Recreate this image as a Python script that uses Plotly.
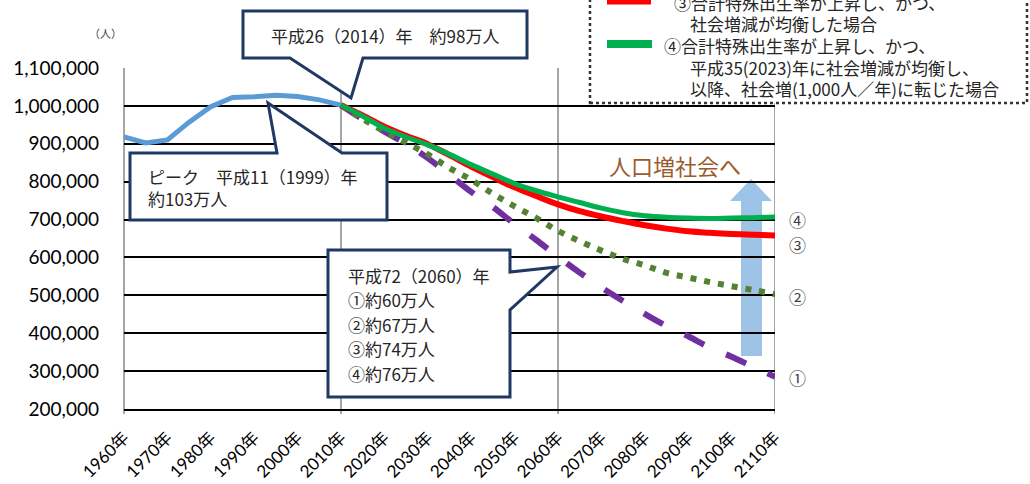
import plotly.graph_objects as go

# ---------------- data ----------------
hist_years = [1960, 1965, 1970, 1975, 1980, 1985, 1990, 1995, 2000, 2005, 2010]
hist_pop = [918000, 902000, 910000, 957000, 998000, 1022000, 1024000, 1028000, 1025000, 1016000, 1002000]

proj_years = [2010, 2015, 2020, 2025, 2030, 2035, 2040, 2045, 2050, 2055, 2060,
              2065, 2070, 2075, 2080, 2085, 2090, 2095, 2100, 2105, 2110]
s1 = [1002000, 965000, 932000, 900000, 862000, 818000, 773000, 733000, 688000, 646000, 602000,
      560000, 521000, 485000, 451000, 419000, 392000, 362000, 338000, 311000, 285000]
s2 = [1002000, 966000, 932000, 903000, 872000, 836000, 805000, 768000, 735000, 704000, 670000,
      643000, 618000, 596000, 579000, 559000, 547000, 535000, 524000, 514000, 503000]
s3 = [1002000, 975000, 945000, 921000, 899000, 870000, 840000, 812000, 785000, 762000, 740000,
      722000, 708000, 696000, 685000, 676000, 669000, 665000, 662000, 660000, 658000]
s4 = [1002000, 973000, 941000, 918000, 897000, 872000, 845000, 820000, 795000, 776000, 760000,
      745000, 730000, 718000, 710000, 706000, 704000, 703000, 704000, 705000, 707000]

x_ticks = list(range(1960, 2111, 10))
x_labels = [f"{y}年" for y in x_ticks]
y_ticks = list(range(200000, 1100001, 100000))

end_labels = ["④", "③", "②", "①"]
callout_2014 = "平成26（2014）年　約98万人"
callout_peak = "ピーク　平成11（1999）年<br>約103万人"
callout_2060 = ["平成72（2060）年", "①約60万人", "②約67万人", "③約74万人", "④約76万人"]
legend_lines = ["③合計特殊出生率が上昇し、かつ、",
                "社会増減が均衡した場合",
                "④合計特殊出生率が上昇し、かつ、",
                "平成35(2023)年に社会増減が均衡し、",
                "以降、社会増(1,000人／年)に転じた場合"]
unit_label = "（人）"
arrow_text = "人口増社会へ"

# ---------------- layout helpers (pixel -> paper) ----------------
W, H = 1030, 484
PL, PR, PT, PB = 124, 775, 68, 409
PW, PH = PR - PL, PB - PT


def fx(x):
    return (x - PL) / PW


def fy(y):
    return (PB - y) / PH


def path(points):
    return "M " + " L ".join(f"{fx(x):.5f},{fy(y):.5f}" for x, y in points) + " Z"


JP = "Noto Sans CJK JP"
NUM = "Lato, Noto Sans CJK JP"
NAVY = "#1F3864"

fig = go.Figure()

fig.add_trace(go.Scatter(x=hist_years, y=hist_pop, mode="lines",
                         line=dict(color="#5B9BD5", width=5), hoverinfo="skip"))
fig.add_trace(go.Scatter(x=proj_years, y=s1, mode="lines",
                         line=dict(color="#7030A0", width=6, dash="22px,24px", shape="spline"),
                         hoverinfo="skip"))
fig.add_trace(go.Scatter(x=proj_years, y=s2, mode="lines",
                         line=dict(color="#548235", width=6, dash="6px,8px", shape="spline"),
                         hoverinfo="skip"))
fig.add_trace(go.Scatter(x=proj_years, y=s3, mode="lines",
                         line=dict(color="#FF0000", width=6, shape="spline"), hoverinfo="skip"))
fig.add_trace(go.Scatter(x=proj_years, y=s4, mode="lines",
                         line=dict(color="#00B050", width=5, shape="spline"), hoverinfo="skip"))

shapes = []
# vertical gridlines every 50 years
for yr in (2010, 2060, 2110):
    shapes.append(dict(type="line", xref="x", yref="paper", x0=yr, x1=yr, y0=fy(414), y1=1,
                       line=dict(color="#A6A6A6", width=2), layer="below"))
shapes.append(dict(type="line", xref="paper", yref="paper", x0=0, x1=0, y0=fy(414), y1=1,
                   line=dict(color="#A6A6A6", width=2), layer="below"))

# big arrow
shapes.append(dict(type="path", xref="paper", yref="paper",
                   path=path([(741, 356), (762, 356), (762, 201), (772, 201), (751, 179),
                              (730, 201), (741, 201)]),
                   fillcolor="#9DC3E6", line=dict(width=0), layer="between"))

# callouts
shapes.append(dict(type="path", xref="paper", yref="paper",
                   path=path([(243, 11), (527, 11), (527, 58), (363, 58), (351, 98),
                              (290, 58), (243, 58)]),
                   fillcolor="white", line=dict(color=NAVY, width=3), layer="above"))
shapes.append(dict(type="path", xref="paper", yref="paper",
                   path=path([(130, 153), (277, 153), (268, 103), (342, 153), (387, 153),
                              (387, 220), (130, 220)]),
                   fillcolor="white", line=dict(color=NAVY, width=3), layer="above"))
shapes.append(dict(type="path", xref="paper", yref="paper",
                   path=path([(328, 250), (510, 250), (510, 272), (557, 267), (510, 310),
                              (510, 397), (328, 397)]),
                   fillcolor="white", line=dict(color=NAVY, width=3), layer="above"))

# legend box
shapes.append(dict(type="rect", xref="paper", yref="paper", x0=fx(590), x1=fx(1027),
                   y0=fy(103), y1=fy(-10), fillcolor="white",
                   line=dict(color="#333333", width=2.5, dash="dot"), layer="above"))
shapes.append(dict(type="line", xref="paper", yref="paper", x0=fx(607), x1=fx(651),
                   y0=fy(1), y1=fy(1), line=dict(color="#FF0000", width=7), layer="above"))
shapes.append(dict(type="line", xref="paper", yref="paper", x0=fx(607), x1=fx(652),
                   y0=fy(44), y1=fy(44), line=dict(color="#00B050", width=8), layer="above"))

ann = []


def text(x, y, s, size=17, color="#262626", anchor="left", family=JP):
    ann.append(dict(xref="paper", yref="paper", x=fx(x), y=fy(y), text=s, showarrow=False,
                    xanchor=anchor, yanchor="middle", align="left",
                    font=dict(family=family, size=size, color=color)))


text(105, 33, unit_label, size=11, anchor="center", color="#404040")
text(385, 35, callout_2014, anchor="center")
ann.append(dict(xref="paper", yref="paper", x=fx(146), y=fy(187), text=callout_peak,
                showarrow=False, xanchor="left", yanchor="middle", align="left",
                font=dict(family=JP, size=17, color="#262626")))
for i, s in enumerate(callout_2060):
    text(346, 275 + i * 24.5, s)
text(675, 165, arrow_text, size=22, anchor="center", color="#9A5B2E")
for s, yy in zip(end_labels, (219, 244, 296, 377)):
    text(797, yy, s, anchor="center", color="#404040")
legend_pos = [(672, 3), (688, 24), (662, 45), (688, 67), (688, 89)]
for s, (xx, yy) in zip(legend_lines, legend_pos):
    text(xx, yy, s)

fig.update_layout(
    width=W, height=H,
    margin=dict(l=PL, r=W - PR, t=PT, b=H - PB, autoexpand=False),
    paper_bgcolor="white", plot_bgcolor="white",
    showlegend=False,
    shapes=shapes, annotations=ann,
    xaxis=dict(range=[1960, 2110], tickmode="array", tickvals=x_ticks, ticktext=x_labels,
               tickangle=-45, showgrid=False, zeroline=False, showline=True,
               linecolor="#000000", linewidth=2, ticks="", automargin=False,
               ticklabelstandoff=10,
               tickfont=dict(family=NUM, size=17, color="#000000")),
    yaxis=dict(range=[200000, 1100000], tickmode="array", tickvals=y_ticks, tickformat=",",
               showgrid=True, gridcolor="#000000", gridwidth=1.5, zeroline=False,
               showline=False, ticks="", automargin=False, ticklabelstandoff=24,
               tickfont=dict(family=NUM, size=19, color="#000000")),
)

fig.write_html("out.html")
